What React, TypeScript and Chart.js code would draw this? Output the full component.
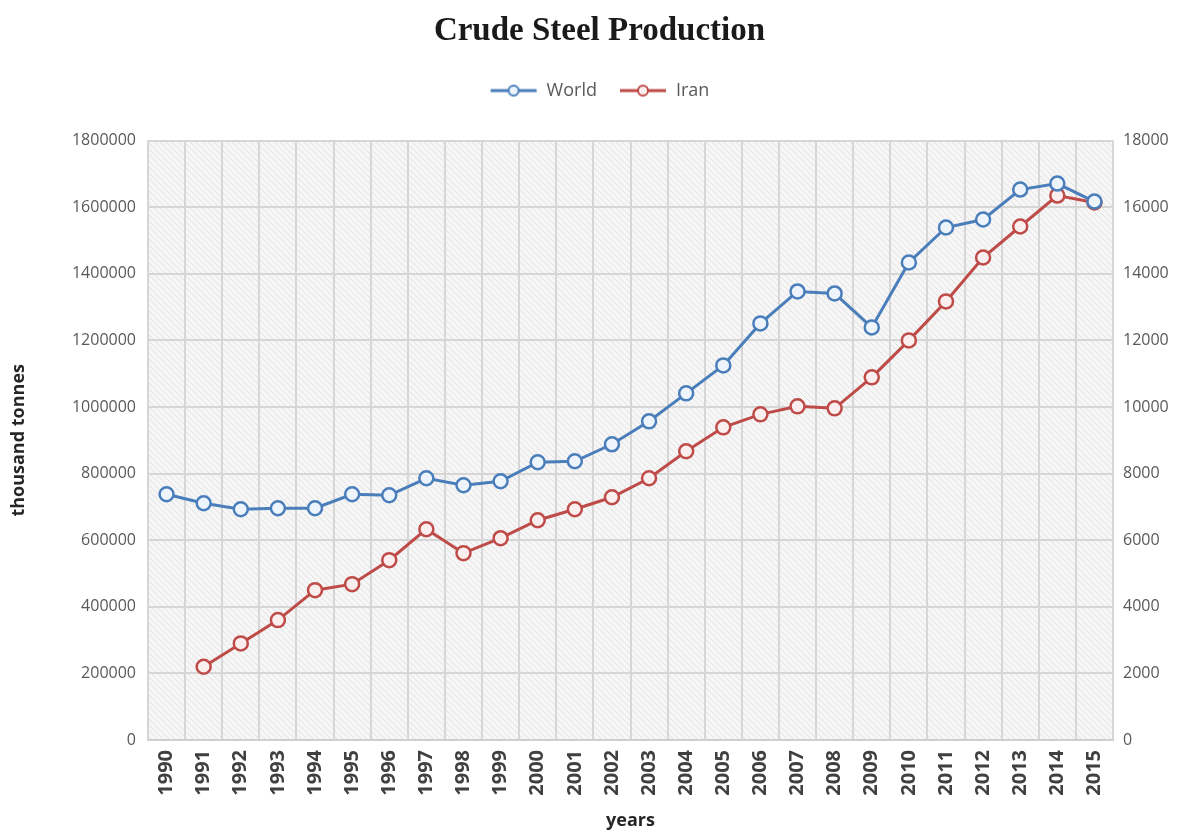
import React, { useEffect, useRef } from "react";
import { Chart, registerables } from "chart.js";

Chart.register(...registerables);

const years = [
  "1990", "1991", "1992", "1993", "1994", "1995", "1996", "1997", "1998", "1999",
  "2000", "2001", "2002", "2003", "2004", "2005", "2006", "2007", "2008", "2009",
  "2010", "2011", "2012", "2013", "2014", "2015",
];

const worldValues = [
  738000, 711000, 693000, 696000, 696000, 738000, 735000, 786000, 765000, 777000,
  834000, 837000, 888000, 957000, 1041000, 1125000, 1251000, 1347000, 1341000, 1239000,
  1434000, 1539000, 1563000, 1653000, 1671000, 1617000,
];

const iranValues: (number | null)[] = [
  null, 2200, 2900, 3600, 4500, 4680, 5400, 6330, 5610, 6060,
  6600, 6930, 7290, 7860, 8670, 9390, 9780, 10020, 9960, 10890,
  12000, 13170, 14490, 15420, 16350, 16140,
];

const seriesNames = ["World", "Iran"];
const titleText = "Crude Steel Production";
const leftAxisTitle = "thousand tonnes";
const xAxisTitle = "years";

const WORLD_COLOR = "#4a7ebb";
const IRAN_COLOR = "#be4b48";

function makeMarker(color: string, fill: string): HTMLCanvasElement {
  const c = document.createElement("canvas");
  c.width = 48;
  c.height = 16;
  const ctx = c.getContext("2d")!;
  ctx.strokeStyle = color;
  ctx.lineWidth = 3;
  ctx.beginPath();
  ctx.moveTo(1, 8);
  ctx.lineTo(47, 8);
  ctx.stroke();
  ctx.beginPath();
  ctx.arc(24, 8, 5, 0, Math.PI * 2);
  ctx.fillStyle = fill;
  ctx.fill();
  ctx.lineWidth = 2;
  ctx.stroke();
  return c;
}

function makeHatch(ctx: CanvasRenderingContext2D): CanvasPattern | string {
  const c = document.createElement("canvas");
  c.width = 6;
  c.height = 6;
  const p = c.getContext("2d")!;
  p.fillStyle = "#f6f6f6";
  p.fillRect(0, 0, 6, 6);
  p.strokeStyle = "#e2e2e2";
  p.lineWidth = 1;
  p.beginPath();
  p.moveTo(0, 0);
  p.lineTo(6, 6);
  p.moveTo(-3, 3);
  p.lineTo(3, 9);
  p.moveTo(3, -3);
  p.lineTo(9, 3);
  p.stroke();
  return ctx.createPattern(c, "repeat") || "#f0f0f0";
}

const hatchPlugin = {
  id: "hatchBg",
  beforeDraw(chart: any) {
    const { ctx, chartArea } = chart;
    if (!chartArea) return;
    ctx.save();
    ctx.fillStyle = makeHatch(ctx);
    ctx.fillRect(chartArea.left, chartArea.top, chartArea.right - chartArea.left, chartArea.bottom - chartArea.top);
    ctx.restore();
  },
};

const legendSpacer = {
  id: "legendSpacer",
  beforeInit(chart: any) {
    const legend = chart.legend;
    if (!legend) return;
    const origFit = legend.fit;
    legend.fit = function () {
      origFit.call(this);
      this.height += 31;
    };
  },
};

export default function App() {
  const ref = useRef<HTMLCanvasElement | null>(null);

  useEffect(() => {
    if (!ref.current) return;
    const worldFill = "#eef4fb";
    const iranFill = "#fbeeee";
    const markers = [makeMarker(WORLD_COLOR, worldFill), makeMarker(IRAN_COLOR, iranFill)];
    const chart = new Chart(ref.current, {
      type: "line",
      data: {
        labels: years,
        datasets: [
          {
            label: seriesNames[0],
            data: worldValues,
            yAxisID: "y",
            borderColor: WORLD_COLOR,
            backgroundColor: worldFill,
            borderWidth: 3,
            pointRadius: 7,
            pointBorderWidth: 2.5,
            pointBackgroundColor: worldFill,
            pointBorderColor: WORLD_COLOR,
            tension: 0,
          },
          {
            label: seriesNames[1],
            data: iranValues,
            yAxisID: "y1",
            borderColor: IRAN_COLOR,
            backgroundColor: iranFill,
            borderWidth: 3,
            pointRadius: 7,
            pointBorderWidth: 2.5,
            pointBackgroundColor: iranFill,
            pointBorderColor: IRAN_COLOR,
            tension: 0,
          },
        ],
      },
      options: {
        animation: false,
        responsive: true,
        maintainAspectRatio: false,
        layout: { padding: { left: 0, right: 0, top: 0, bottom: 0 } },
        plugins: {
          title: {
            display: true,
            text: titleText,
            color: "#1a1a1a",
            font: { family: "'Liberation Serif', serif", size: 33, weight: "bold" },
            padding: { top: 4, bottom: 8 },
          },
          legend: {
            display: true,
            position: "top",
            labels: {
              color: "#595959",
              font: { family: "'Open Sans', sans-serif", size: 18 },
              usePointStyle: true,
              pointStyleWidth: 48,
              padding: 22,
              generateLabels: (ch: any) =>
                ch.data.datasets.map((ds: any, i: number) => ({
                  text: ds.label,
                  pointStyle: markers[i],
                  fontColor: "#595959",
                  datasetIndex: i,
                  hidden: false,
                  lineWidth: 0,
                  strokeStyle: "rgba(0,0,0,0)",
                  fillStyle: "rgba(0,0,0,0)",
                })),
            },
          },
          tooltip: { enabled: false },
        },
        scales: {
          x: {
            type: "category",
            offset: true,
            grid: { offset: true, color: "#d6d6d6", lineWidth: 2, drawTicks: false },
            border: { color: "#cfcfcf", width: 2 },
            ticks: {
              color: "#404040",
              font: { family: "'Open Sans', sans-serif", size: 20, weight: "bold" },
              maxRotation: 90,
              minRotation: 90,
              padding: 10,
              autoSkip: false,
            },
            title: {
              display: true,
              text: xAxisTitle,
              color: "#262626",
              font: { family: "'Open Sans', sans-serif", size: 18, weight: "bold" },
              padding: { top: 2, bottom: 0 },
            },
            afterFit: (s: any) => {
              s.height = 92;
            },
          },
          y: {
            type: "linear",
            position: "left",
            min: 0,
            max: 1800000,
            ticks: {
              stepSize: 200000,
              color: "#595959",
              font: { family: "'Open Sans', sans-serif", size: 16 },
              padding: 12,
              callback: (v: any) => String(v),
            },
            grid: { color: "#d6d6d6", lineWidth: 2, drawTicks: false },
            border: { display: false },
            title: {
              display: true,
              text: leftAxisTitle,
              color: "#262626",
              font: { family: "'Open Sans', sans-serif", size: 18, weight: "bold" },
              padding: { top: 0, bottom: 4 },
            },
            afterFit: (s: any) => {
              s.width = 140;
            },
          },
          y1: {
            type: "linear",
            position: "right",
            min: 0,
            max: 18000,
            ticks: {
              stepSize: 2000,
              color: "#595959",
              font: { family: "'Open Sans', sans-serif", size: 16 },
              padding: 10,
              callback: (v: any) => String(v),
            },
            grid: { display: false, drawTicks: false },
            border: { display: false },
            afterFit: (s: any) => {
              s.width = 78;
            },
          },
        },
      },
      plugins: [hatchPlugin, legendSpacer],
    });
    return () => chart.destroy();
  }, []);

  return (
    <div style={{ position: "relative", width: 1183, height: 824, background: "#ffffff" }}>
      <canvas ref={ref} />
    </div>
  );
}
